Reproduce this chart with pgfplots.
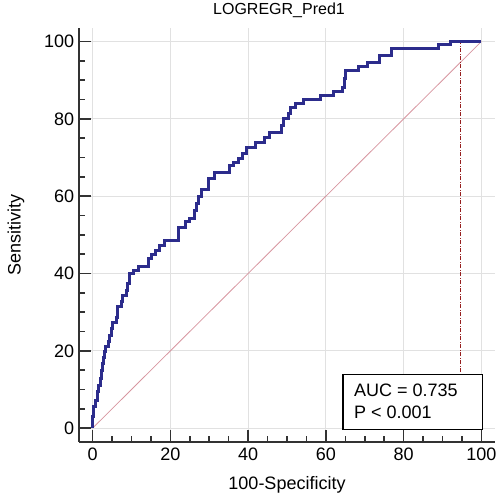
\documentclass[border=0pt]{standalone}
\usepackage{fontspec}
\setmainfont{Liberation Sans}
\usepackage{pgfplots}
\pgfplotsset{compat=1.18}
\definecolor{roc}{RGB}{44,44,140}
\definecolor{diag}{RGB}{215,150,160}
\definecolor{crit}{RGB}{150,30,30}
\definecolor{axgray}{RGB}{50,50,50}
\definecolor{gridgray}{RGB}{225,225,225}
\begin{document}
\begin{tikzpicture}[x=1bp,y=1bp]
\begin{axis}[
  at={(0,0)}, anchor=south west,
  scale only axis, width=416bp, height=413.7bp,
  xmin=-3.5, xmax=103.5, ymin=-3.5, ymax=103.5,
  axis x line=bottom, axis y line=left,
  axis line style={-, draw=axgray, line width=2bp},
  xtick={0,20,...,100}, ytick={0,20,...,100},
  minor xtick={5,10,...,95}, minor ytick={5,10,...,95},
  tick align=inside,
  major tick length=11.7bp, minor tick length=6bp,
  tick style={draw=axgray, line width=1.6bp},
  grid=major, major grid style={draw=gridgray, line width=0.8bp},
  /pgf/number format/assume math mode=true,
  ticklabel style={font=\fontsize{18bp}{20bp}\selectfont},
  xticklabel style={anchor=north, yshift=-2.3bp},
  yticklabel style={anchor=east, xshift=-1.3bp},
  clip=false,
]
\addplot[diag, line width=0.8bp] coordinates {(0,0) (100,100)};
\addplot[crit, line width=1.3bp, dash pattern=on 4bp off 1.5bp on 1bp off 1.5bp] coordinates {(94.6,0) (94.6,100)};
\addplot[roc, line width=3bp, line join=miter, sharp plot] coordinates {
(0,0) (0,3)
(0.3,3) (0.3,5.5)
(0.8,5.5) (0.8,7.2)
(1.2,7.2) (1.2,9.5)
(1.6,9.5) (1.6,11.1)
(2.1,11.1) (2.1,12.9)
(2.3,12.9) (2.3,15)
(2.5,15) (2.5,16.7)
(2.9,16.7) (2.9,18.4)
(3.1,18.4) (3.1,19.8)
(3.4,19.8) (3.4,21.2)
(4.2,21.2) (4.2,22.5)
(4.4,22.5) (4.4,24)
(4.8,24) (4.8,25.7)
(5.1,25.7) (5.1,27.2)
(6.1,27.2) (6.1,28.5)
(6.5,28.5) (6.5,31.5)
(7.4,31.5) (7.4,32.8)
(7.8,32.8) (7.8,34.3)
(8.7,34.3) (8.7,35.7)
(9.1,35.7) (9.1,37.4)
(9.4,37.4) (9.4,40)
(10.4,40) (10.4,40.8)
(11.7,40.8) (11.7,41.8)
(14.3,41.8) (14.3,43.8)
(15.2,43.8) (15.2,45)
(16.2,45) (16.2,46)
(17.3,46) (17.3,47.3)
(18.6,47.3) (18.6,48.6)
(22,48.6) (22,52)
(23.8,52) (23.8,53.4)
(25,53.4) (25,54.2)
(26.3,54.2) (26.3,56.3)
(26.8,56.3) (26.8,58)
(27.2,58) (27.2,59.8)
(28,59.8) (28,61.8)
(29.7,61.8) (29.7,64.5)
(31.4,64.5) (31.4,66.2)
(35.1,66.2) (35.1,67.9)
(36.2,67.9) (36.2,68.8)
(37.5,68.8) (37.5,69.8)
(38.6,69.8) (38.6,71)
(39.6,71) (39.6,72.6)
(41.8,72.6) (41.8,73.9)
(44.3,73.9) (44.3,75.2)
(45.6,75.2) (45.6,76.5)
(48.6,76.5) (48.6,78.2)
(49.2,78.2) (49.2,80)
(50.5,80) (50.5,81.5)
(50.9,81.5) (50.9,83)
(52.1,83) (52.1,83.9)
(54.2,83.9) (54.2,84.9)
(58.7,84.9) (58.7,86)
(61.9,86) (61.9,87)
(64.3,87) (64.3,88.1)
(64.7,88.1) (64.7,90.5)
(65.1,90.5) (65.1,92.5)
(68.4,92.5) (68.4,93.5)
(70.7,93.5) (70.7,94.7)
(73.8,94.7) (73.8,96.4)
(77,96.4) (77,98.1)
(89,98.1) (89,99.1)
(92,99.1) (92,100)
(100,100)
};
\draw[black, line width=1.5bp, fill=white] (axis cs:64.4,-0.3) rectangle (axis cs:100.3,13.9);
\node[anchor=west, inner sep=0pt, font=\fontsize{18bp}{20bp}\selectfont] at (axis cs:67.2,9.8) {AUC = 0.735};
\node[anchor=west, inner sep=0pt, font=\fontsize{18bp}{20bp}\selectfont] at (axis cs:67.2,4.2) {P < 0.001};
\end{axis}
\node[font=\fontsize{16bp}{19bp}\selectfont] at (200,431.2) {LOGREGR\_Pred1};
\node[font=\fontsize{18bp}{20bp}\selectfont] at (208,-43.3) {100-Specificity};
\node[font=\fontsize{18bp}{20bp}\selectfont, rotate=90] at (-63,206.7) {Sensitivity};
\pgfresetboundingbox
\path[use as bounding box] (-79,-57.3) rectangle (421,441.7);
\end{tikzpicture}
\end{document}
